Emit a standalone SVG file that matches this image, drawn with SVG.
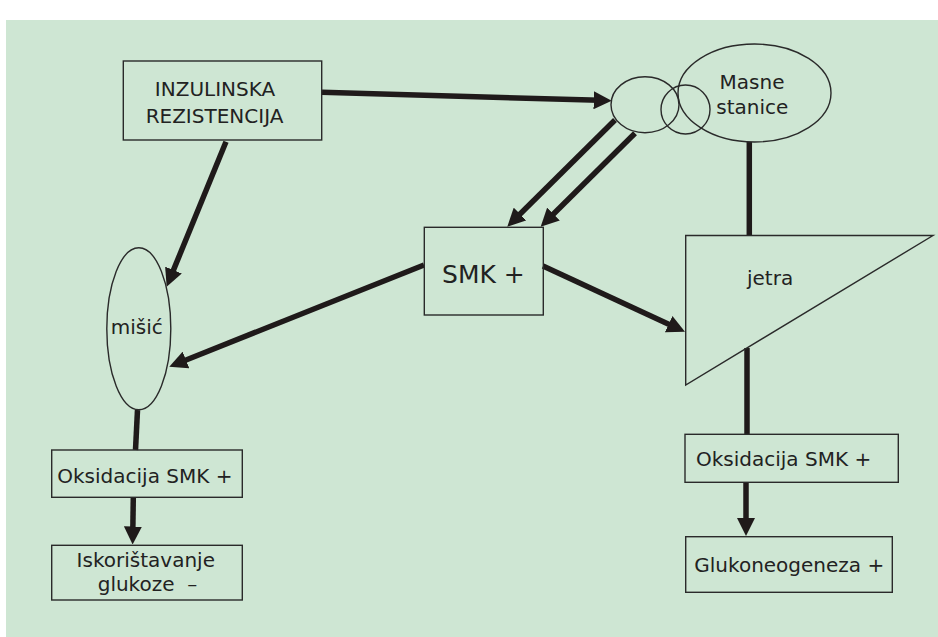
<svg xmlns="http://www.w3.org/2000/svg" width="938" height="637" viewBox="0 0 938 637">
  <style>
    .bg { fill: #cee6d3; }
    .shape { fill: none; stroke: #2a2a2a; stroke-width: 1.4; }
    .txt { font-family: "DejaVu Sans", "Liberation Sans", sans-serif; font-size: 20px; fill: #222; }
    .mid { text-anchor: middle; }
    .conn { stroke: #1f1a1a; stroke-width: 5.5; fill: none; }
  </style>
  <defs>
    <marker id="ah" markerUnits="userSpaceOnUse" viewBox="0 0 18 18" markerWidth="18" markerHeight="18" refX="6" refY="9" orient="auto">
      <path d="M0,0 L18,9 L0,18 Z" fill="#1f1a1a"/>
    </marker>
  </defs>

  <rect class="bg" x="6" y="20" width="932" height="617"/>

  <g id="connectors">
    <line class="conn" x1="322" y1="92.3" x2="599.7" y2="100.35" marker-end="url(#ah)"/>
    <line class="conn" x1="615" y1="120" x2="515.8" y2="218.25" marker-end="url(#ah)"/>
    <line class="conn" x1="635" y1="133.3" x2="549.2" y2="218.25" marker-end="url(#ah)"/>
    <line class="conn" x1="226" y1="141.7" x2="171.2" y2="275.6" marker-end="url(#ah)"/>
    <line class="conn" x1="424" y1="265" x2="180.4" y2="362.25" marker-end="url(#ah)"/>
    <line class="conn" x1="543" y1="266" x2="674.1" y2="326.7" marker-end="url(#ah)"/>
    <line class="conn" x1="133.3" y1="497.3" x2="132.8" y2="532.5" marker-end="url(#ah)"/>
    <line class="conn" x1="746" y1="482.3" x2="746" y2="524" marker-end="url(#ah)"/>
    <line class="conn" x1="137.5" y1="410" x2="135.5" y2="450"/>
    <line class="conn" x1="749.3" y1="142" x2="749.3" y2="235.5"/>
    <line class="conn" x1="747" y1="348" x2="747" y2="434.3"/>
  </g>

  <g id="inzulinska">
    <rect class="shape" x="123.3" y="61" width="198.4" height="79"/>
    <text class="txt mid" x="215" y="96">INZULINSKA</text>
    <text class="txt mid" x="214.5" y="123">REZISTENCIJA</text>
  </g>

  <g id="small-ellipse">
    <ellipse class="shape" cx="645" cy="104.7" rx="34" ry="28"/>
  </g>
  <g id="small-circle">
    <ellipse class="shape" cx="685.5" cy="109.5" rx="24.5" ry="24.5"/>
  </g>
  <g id="masne-stanice">
    <ellipse class="shape" cx="754.5" cy="93" rx="76.5" ry="49"/>
    <text class="txt mid" x="752" y="88.5">Masne</text>
    <text class="txt mid" x="752.3" y="114.3">stanice</text>
  </g>

  <g id="smk">
    <rect class="shape" x="424.3" y="227.3" width="119" height="87.7"/>
    <text class="txt mid" x="483.4" y="282.7" style="font-size:25px">SMK +</text>
  </g>

  <g id="jetra">
    <polygon class="shape" points="685.7,235.5 933,235.5 685.7,385"/>
    <text class="txt" x="747" y="285">jetra</text>
  </g>

  <g id="misic">
    <ellipse class="shape" cx="138.8" cy="328.8" rx="32" ry="81"/>
    <text class="txt mid" x="136.7" y="334.3">mišić</text>
  </g>

  <g id="oksidacija-left">
    <rect class="shape" x="51.7" y="450" width="190.6" height="47.3"/>
    <text class="txt" x="57.3" y="482.7">Oksidacija SMK +</text>
  </g>

  <g id="iskoristavanje">
    <rect class="shape" x="51.7" y="545.3" width="190.6" height="54.7"/>
    <text class="txt mid" x="145.8" y="567.3">Iskorištavanje</text>
    <text class="txt" x="97.7" y="590.7" xml:space="preserve">glukoze  –</text>
  </g>

  <g id="oksidacija-right">
    <rect class="shape" x="685" y="434.3" width="213.3" height="48"/>
    <text class="txt" x="696" y="465.7">Oksidacija SMK +</text>
  </g>

  <g id="glukoneogeneza">
    <rect class="shape" x="685.7" y="536.7" width="206.6" height="55.6"/>
    <text class="txt" x="694.3" y="572.3">Glukoneogeneza +</text>
  </g>
</svg>
